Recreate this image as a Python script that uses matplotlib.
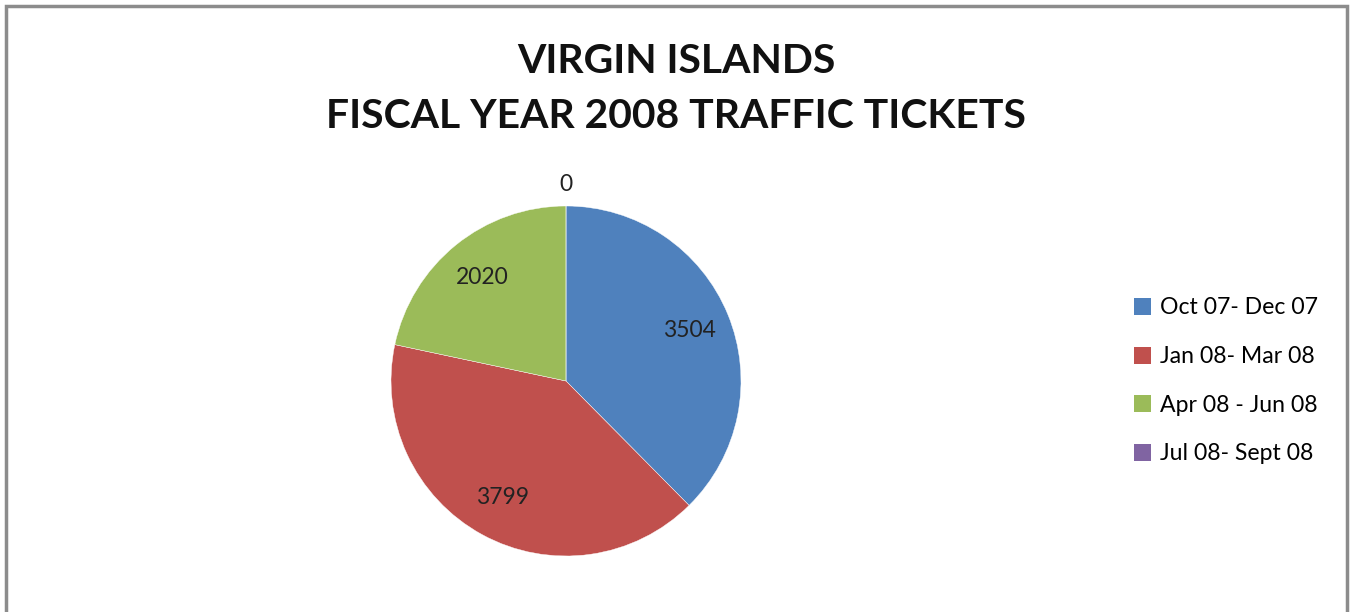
import matplotlib
matplotlib.use("Agg")
import matplotlib.pyplot as plt
from matplotlib.patches import Patch, Rectangle

plt.rcParams['font.family'] = ['Lato', 'DejaVu Sans']

# data
quarters = ['Oct 07- Dec 07', 'Jan 08- Mar 08', 'Apr 08 - Jun 08', 'Jul 08- Sept 08']
tickets = [3504, 3799, 2020, 0]
colors = ['#4F81BD', '#C0504D', '#9BBB59', '#8064A2']
title = 'VIRGIN ISLANDS\nFISCAL YEAR 2008 TRAFFIC TICKETS'

W, H = 1360, 612
fig = plt.figure(figsize=(W / 100, H / 100), dpi=100)

# pie center (566, 381) px, radius 175 px
cx, cy, r = 566, 381, 175
half = 1.25 * r
ax = fig.add_axes([(cx - half) / W, (H - cy - half) / H, 2 * half / W, 2 * half / H])

total = sum(tickets)
wedges, texts, autotexts = ax.pie(
    tickets, colors=colors, startangle=90, counterclock=False,
    autopct=lambda p: '{:d}'.format(int(round(p * total / 100))),
    pctdistance=0.76, wedgeprops=dict(linewidth=0.3, edgecolor='white'),
    textprops=dict(fontsize=16.5, color='#222222'))
ax.set_xlim(-1.25, 1.25)
ax.set_ylim(-1.25, 1.25)
ax.set_aspect('equal')

# zero-size slice gets its label outside, above the pie
for t, v in zip(autotexts, tickets):
    if v == 0:
        t.set_position((0, 1.12))

fig.text(676 / W, 1 - 89 / H, title, ha='center', va='center',
         fontsize=29.4, fontweight='bold', linespacing=1.62, color='#111111')

handles = [Patch(facecolor=c, edgecolor='none') for c in colors]
fig.legend(handles, quarters, loc='center left',
           bbox_to_anchor=(1113 / W, 1 - 381 / H), frameon=False,
           fontsize=16.6, handlelength=0.75, handleheight=0.75,
           handletextpad=0.4, labelspacing=1.2)

# outer chart frame
fig.patches.append(Rectangle((6 / W, -0.1), (1347 - 6) / W, 1.1 - 6 / H,
                             transform=fig.transFigure, fill=False,
                             edgecolor='#8c8c8c', linewidth=2.5))

fig.savefig('out.png', dpi=100)
